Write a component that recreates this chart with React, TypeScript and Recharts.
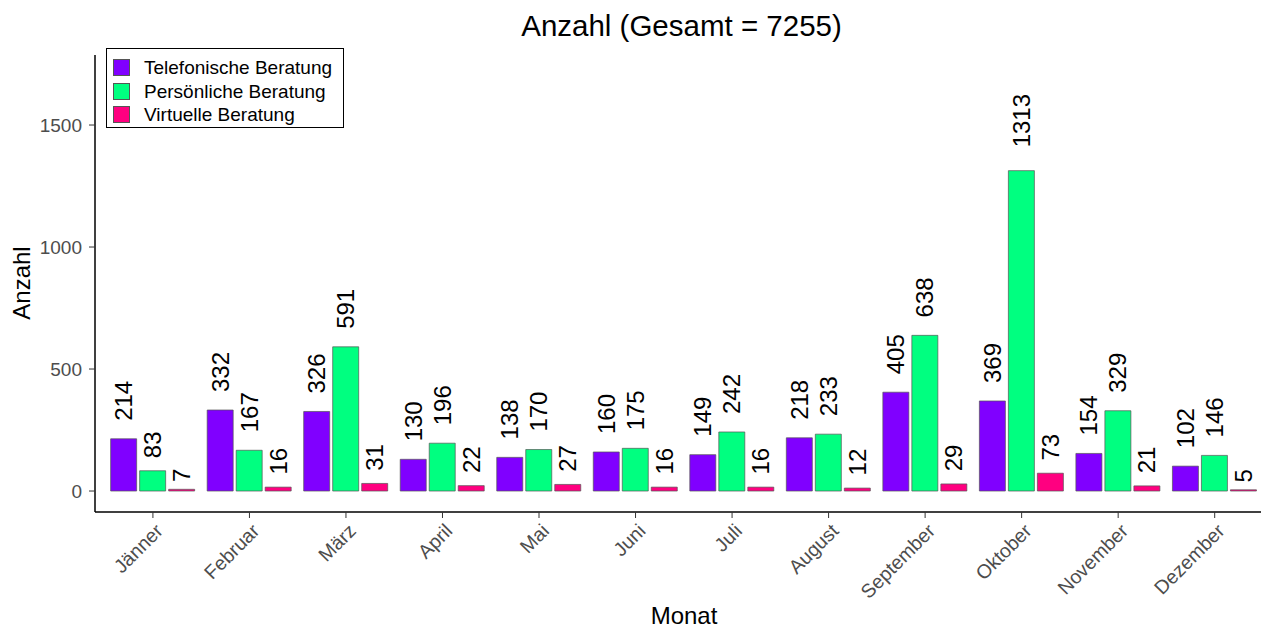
import { BarChart, Bar, XAxis, YAxis, LabelList } from "recharts";

const months = [
  "Jänner",
  "Februar",
  "März",
  "April",
  "Mai",
  "Juni",
  "Juli",
  "August",
  "September",
  "Oktober",
  "November",
  "Dezember",
];
const telefonisch = [214, 332, 326, 130, 138, 160, 149, 218, 405, 369, 154, 102];
const persoenlich = [83, 167, 591, 196, 170, 175, 242, 233, 638, 1313, 329, 146];
const virtuell = [7, 16, 31, 22, 27, 16, 16, 12, 29, 73, 21, 5];
const yTicks = [0, 500, 1000, 1500];

const series = [
  { key: "tel", name: "Telefonische Beratung", color: "#8000FF" },
  { key: "pers", name: "Persönliche Beratung", color: "#00FF80" },
  { key: "virt", name: "Virtuelle Beratung", color: "#FF0080" },
];

const data = months.map((m, i) => ({
  monat: m,
  tel: telefonisch[i],
  pers: persoenlich[i],
  virt: virtuell[i],
}));

const total = [...telefonisch, ...persoenlich, ...virtuell].reduce((a, b) => a + b, 0);

const FONT = "'Liberation Sans', Arial, sans-serif";

// rotated value label above each bar
const renderValue = (props: any) => {
  const { x, y, width, value } = props;
  const w = String(value).length * 13.3;
  const gap = 2 + 0.4 * w;
  const cx = Number(x) + Number(width) / 2;
  const by = Number(y) - gap;
  return (
    <text
      transform={`translate(${cx},${by}) rotate(-90)`}
      textAnchor="start"
      dominantBaseline="central"
      fontSize={24}
      fontFamily={FONT}
      fill="#000"
    >
      {value}
    </text>
  );
};

const MonthTick = (props: any) => {
  const { x, y, payload } = props;
  return (
    <text
      transform={`translate(${x + 1},${y + 2}) rotate(-45)`}
      textAnchor="end"
      dominantBaseline="hanging"
      fontSize={19.5}
      fontFamily={FONT}
      fill="#4d4d4d"
    >
      {payload.value}
    </text>
  );
};

export default function App() {
  return (
    <div
      style={{
        position: "fixed",
        left: 0,
        top: 0,
        width: 1261,
        height: 630,
        overflow: "hidden",
        background: "#fff",
        fontFamily: FONT,
      }}
    >
      <BarChart
        width={1280}
        height={630}
        data={data}
        margin={{ top: 55, right: 7.4, bottom: 0, left: 35 }}
        barSize={26}
        barGap={3}
      >
        <XAxis
          dataKey="monat"
          height={118}
          padding={{ left: 9.65, right: 9.65 }}
          tickSize={6}
          tickLine={{ stroke: "#333" }}
          axisLine={{ stroke: "#000", strokeWidth: 1.5 }}
          tick={<MonthTick />}
          interval={0}
        />
        <YAxis
          width={60}
          domain={[-86, 1787]}
          ticks={yTicks}
          tickSize={6}
          tickMargin={7}
          tickLine={{ stroke: "#333" }}
          axisLine={{ stroke: "#000", strokeWidth: 1.5 }}
          tick={{ fill: "#4d4d4d", fontSize: 19, fontFamily: FONT }}
        />
        {series.map((s) => (
          <Bar
            key={s.key}
            dataKey={s.key}
            name={s.name}
            fill={s.color}
            stroke="#555"
            strokeWidth={0.7}
            isAnimationActive={false}
          >
            <LabelList dataKey={s.key} content={renderValue} />
          </Bar>
        ))}
      </BarChart>

      <div
        style={{
          position: "absolute",
          left: 0,
          width: 1363,
          top: 9,
          textAlign: "center",
          fontSize: 29.5,
          color: "#000",
        }}
      >
        Anzahl (Gesamt = {total})
      </div>
      <div
        style={{
          position: "absolute",
          left: 0,
          width: 1368,
          top: 602,
          textAlign: "center",
          fontSize: 24,
          color: "#000",
        }}
      >
        Monat
      </div>
      <div
        style={{
          position: "absolute",
          left: 22,
          top: 283,
          fontSize: 24,
          color: "#000",
          transform: "translate(-50%, -50%) rotate(-90deg)",
          whiteSpace: "nowrap",
        }}
      >
        Anzahl
      </div>

      <div
        style={{
          position: "absolute",
          left: 106,
          top: 48,
          width: 238,
          height: 80,
          border: "1.5px solid #000",
          padding: "7px 0 0 6px",
          boxSizing: "border-box",
          background: "#fff",
        }}
      >
        {series.map((s) => (
          <div
            key={s.key}
            style={{ display: "flex", alignItems: "center", height: 23.5 }}
          >
            <div
              style={{
                width: 17,
                height: 17,
                background: s.color,
                border: "1px solid #555",
                boxSizing: "border-box",
                marginRight: 14,
              }}
            />
            <span style={{ fontSize: 19, lineHeight: "19px" }}>{s.name}</span>
          </div>
        ))}
      </div>
    </div>
  );
}
